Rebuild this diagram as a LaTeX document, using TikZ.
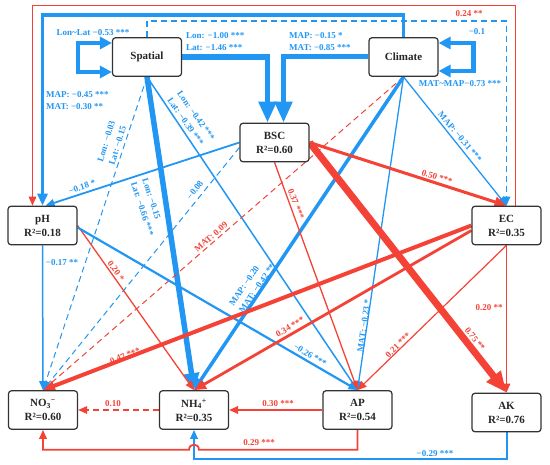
\documentclass[tikz,border=0pt]{standalone}
\usepackage{fontspec}
\setmainfont{Liberation Serif}
\usetikzlibrary{arrows.meta,calc}
\definecolor{effblue}{RGB}{33,150,243}
\definecolor{effred}{RGB}{244,67,54}
\pgfdeclarelayer{bg}
\pgfsetlayers{bg,main}
\begin{document}
\begin{tikzpicture}[x=1pt,y=-1pt,
    box/.style={draw=black!80,line width=1.2pt,rounded corners=3pt,fill=white,
      minimum width=69pt,minimum height=38.5pt,inner sep=1pt,align=center,
      text=black!85,font=\bfseries\fontsize{11}{14}\selectfont},
    lbl/.style={inner sep=0pt,align=left,font=\bfseries\fontsize{9}{12}\selectfont},
    neglbl/.style={lbl,text=effblue},
    poslbl/.style={lbl,text=effred},
    negeff/.style={draw=effblue},
    poseff/.style={draw=effred},
    dsh/.style={dash pattern=on 6pt off 4pt},
    tipS/.style={-{Triangle[length=9pt,width=7.5pt]}},
    tipM/.style={-{Triangle[length=12pt,width=10pt]}},
    tipL/.style={-{Triangle[length=17pt,width=15pt]}},
    tipXL/.style={-{Triangle[length=21pt,width=17pt]}}]
  \useasboundingbox (0,0) rectangle (550,465);

  \node[box] (spa) at (147,57) {Spatial};
  \node[box] (cli) at (403.5,57) {Climate};
  \node[box] (bsc) at (274.5,142.5) {BSC\\R²=0.60};
  \node[box] (ph) at (42.5,225.5) {pH\\R²=0.18};
  \node[box] (ec) at (506.5,225.5) {EC\\R²=0.35};
  \node[box] (no3) at (43,410) {NO\textsubscript{3}\textsuperscript{−}\\R²=0.60};
  \node[box] (nh) at (194,410) {NH\textsubscript{4}\textsuperscript{+}\\R²=0.35};
  \node[box] (ap) at (357.5,410) {AP\\R²=0.54};
  \node[box] (ak) at (506.5,412.5) {AK\\R²=0.76};

  \begin{pgfonlayer}{bg}
  % loops and bent paths
  \draw[negeff,line width=4.5pt,{Triangle[length=12pt,width=12pt]}-{Triangle[length=12pt,width=12pt]}]
    ([yshift=14pt]spa.west) -- ++(-34,0) |- ([yshift=-15pt]spa.west);
  \draw[negeff,line width=4.5pt,{Triangle[length=12pt,width=12pt]}-{Triangle[length=12pt,width=12pt]}]
    ([yshift=14pt]cli.east) -- ++(35,0) |- ([yshift=-14pt]cli.east);
  \draw[negeff,line width=5.5pt,tipXL] (spa.east) -| ([xshift=-7pt]bsc.north);
  \draw[negeff,line width=5pt,tipXL] (cli.west) -| ([xshift=9pt]bsc.north);
  \draw[negeff,line width=3.5pt,tipM] (cli.north) -- ++(0,-22) -| (ph.north);
  \draw[poseff,line width=1.5pt,tipS] ([xshift=9pt]ec.north) -- ++(0,-200) -| ([xshift=-10pt]ph.north);
  \draw[negeff,line width=1.3pt,dsh,tipS] (spa.north) -- ++(0,-16) -| (ec.north);

  % straight paths
  \draw[negeff,line width=5.5pt,tipL] (spa.south) -- (nh.north);
  \draw[negeff,line width=1pt,dsh,tipS] (spa.south) -- (no3.north);
  \draw[negeff,line width=1.5pt,tipS] (spa.south) -- (ap.north);
  \draw[poseff,line width=1pt,dsh,tipS] (cli.south) -- (no3.north);
  \draw[negeff,line width=3.5pt,tipM] (cli.south) -- (nh.north);
  \draw[negeff,line width=1.3pt,tipS] (cli.south) -- (ap.north);
  \draw[negeff,line width=1.3pt,tipS] (cli.south) -- (ec.north);
  \draw[negeff,line width=1.8pt,tipS] (bsc.west) -- ([xshift=3pt]ph.north);
  \draw[negeff,line width=1pt,dsh,tipS] ([yshift=-5pt]bsc.west) -- (no3.north);
  \draw[poseff,line width=1.3pt,tipS] (bsc.south) -- (ap.north);
  \draw[poseff,line width=3pt,tipM] (bsc.east) -- (ec.north);
  \draw[poseff,line width=7pt,tipXL] (bsc.east) -- (ak.north);
  \draw[negeff,line width=1.5pt,tipS] (ph.south) -- (no3.north);
  \draw[poseff,line width=1.3pt,tipS] (ph.east) -- (nh.north);
  \draw[negeff,line width=2.2pt,tipS] ([yshift=-2pt]ph.east) -- (ap.north);
  \draw[poseff,line width=4pt,tipM] (ec.west) -- (no3.north);
  \draw[poseff,line width=2.8pt,tipM] ([yshift=-5pt]ec.west) -- (nh.north);
  \draw[poseff,line width=1.2pt,tipS] (ec.south) -- (ap.north);
  \draw[poseff,line width=1.3pt,tipS] (ec.south) -- (ak.north);
  \draw[poseff,line width=1.2pt,dsh,tipS] (nh.west) -- (no3.east);
  \draw[poseff,line width=1.8pt,tipS] (ap.west) -- (nh.east);

  % bottom paths
  \draw[negeff,line width=2pt,tipS] (ak.south) -- ++(0,27) -| (nh.south);
  \draw[poseff,line width=1.8pt,tipS] (ap.south) -- ++(0,20) -- ($(nh.south)+(5,20)$)
    .. controls +(0,-7) and +(0,-7) .. ($(nh.south)+(-5,20)$) -| (no3.south);
  \end{pgfonlayer}

  % labels
  \node[neglbl] (lSpaLoop) at (93,33) {Lon\textasciitilde Lat −0.53 ***};
  \node[neglbl] (lSpaEc) at (477,32) {−0.1};
  \node[neglbl] (lCliLoop) at (460,84) {MAT\textasciitilde MAP−0.73 ***};
  \node[neglbl,anchor=west] (lSpaBsc) at (186,42) {Lon: −1.00 ***\\Lat: −1.46 ***};
  \node[neglbl,anchor=west] (lCliBsc) at (289,42) {MAP: −0.15 *\\MAT: −0.85 ***};
  \node[neglbl,anchor=west] (lCliPh) at (46,101) {MAP: −0.45 ***\\MAT: −0.30 **};
  \node[poslbl] (lEcPh) at (469,14) {0.24 **};
  \node[neglbl,rotate=-72] (lSpaNh) at (148,207) {Lon: −0.15\\Lat: −0.66 ***};
  \node[neglbl,rotate=73] (lSpaNo) at (112,143) {Lon: −0.03\\Lat: −0.15};
  \node[neglbl,rotate=-55] (lSpaAp) at (191,119) {Lon: −0.42 ***\\Lat: −0.39 ***};
  \node[poslbl,rotate=41] (lCliNo) at (211,237) {MAT: 0.09};
  \node[neglbl,rotate=56] (lCliNh) at (252,285) {MAP: −0.20\\MAT: −0.42 **};
  \node[neglbl,rotate=82] (lCliAp) at (364,326) {MAT: −0.23 *};
  \node[neglbl,rotate=-50] (lCliEc) at (460,137) {MAP: −0.31 ***};
  \node[neglbl,rotate=18] (lBscPh) at (82,187) {−0.18 *};
  \node[neglbl,rotate=52] (lBscNo) at (195,190) {−0.08};
  \node[poslbl,rotate=-69] (lBscAp) at (296,204) {0.37 ***};
  \node[poslbl,rotate=-17] (lBscEc) at (437,177) {0.50 ***};
  \node[poslbl,rotate=-52] (lBscAk) at (475,339) {0.75 **};
  \node[neglbl] (lPhNo) at (62,263) {−0.17 **};
  \node[poslbl,rotate=-55] (lPhNh) at (116,271) {0.20 *};
  \node[neglbl,rotate=-31] (lPhAp) at (310,355) {−0.26 ***};
  \node[poslbl,rotate=21] (lEcNo) at (125,356) {0.47 ***};
  \node[poslbl,rotate=30] (lEcNh) at (290,327) {0.34 ***};
  \node[poslbl,rotate=45] (lEcAp) at (398,345) {0.21 ***};
  \node[poslbl] (lEcAk) at (489,308) {0.20 **};
  \node[poslbl] (lNhNo) at (113,404) {0.10};
  \node[poslbl] (lApNh) at (278,404) {0.30 ***};
  \node[poslbl] (lApNo) at (259,443) {0.29 ***};
  \node[neglbl] (lAkNh) at (435,454) {−0.29 ***};
\end{tikzpicture}
\end{document}
